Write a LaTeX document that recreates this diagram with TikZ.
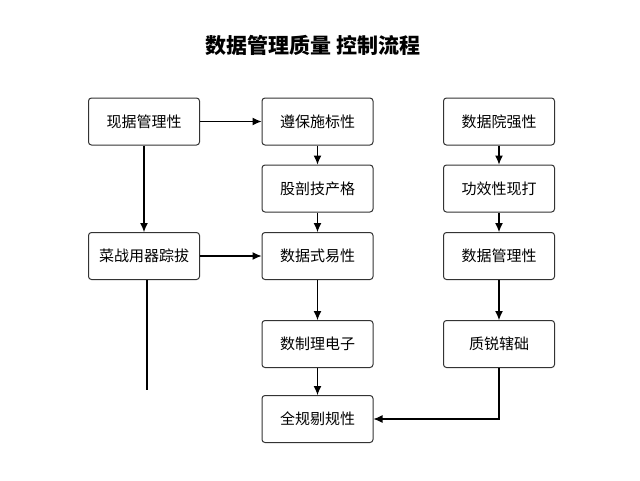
\documentclass[tikz,border=0pt]{standalone}
\usepackage{fontspec}
\setmainfont{Noto Sans CJK SC}
\usetikzlibrary{arrows.meta}
\begin{document}
\begin{tikzpicture}[x=1pt,y=-1pt,
  box/.style={draw=black!80,rounded corners=3pt,line width=1pt,minimum width=111pt,minimum height=47pt,inner sep=0pt,font=\fontsize{15}{17}\selectfont},
  arr/.style={-{Latex[length=9pt,width=8pt]},line width=1.1pt}]
\useasboundingbox (0,0) rectangle (640,480);
\fill[white] (0,0) rectangle (640,480);
\node[font=\fontsize{21}{24}\selectfont\bfseries] (t) at (313,45) {数据管理质量 控制流程};
\node[box] (a1) at (144,121.5) {现据管理性};
\node[box] (a2) at (144,256) {菜战用器踪拔};
\node[box] (b1) at (317.5,121.5) {遵保施标性};
\node[box] (b2) at (317.5,188.5) {股剖技产格};
\node[box] (b3) at (317.5,256) {数据式易性};
\node[box] (b4) at (317.5,344) {数制理电子};
\node[box] (b5) at (317.5,419) {全规剔规性};
\node[box] (c1) at (499,121.5) {数据院强性};
\node[box] (c2) at (499,188.5) {功效性现打};
\node[box] (c3) at (499,256) {数据管理性};
\node[box] (c4) at (499,344) {质锐辖础};
\coordinate (e) at (147,390);
\draw[arr] (a1) -- (b1);
\draw[arr] (a2) -- (b3);
\draw[arr] (a1) -- (a2);
\draw[line width=1.1pt] (a2.south) ++(3,0) -- (e);
\draw[arr] (b1) -- (b2);
\draw[arr] (b2) -- (b3);
\draw[arr] (b3) -- (b4);
\draw[arr] (b4) -- (b5);
\draw[arr] (c1) -- (c2);
\draw[arr] (c2) -- (c3);
\draw[arr] (c3) -- (c4);
\draw[arr] (c4.south) |- (b5.east);
\end{tikzpicture}
\end{document}
